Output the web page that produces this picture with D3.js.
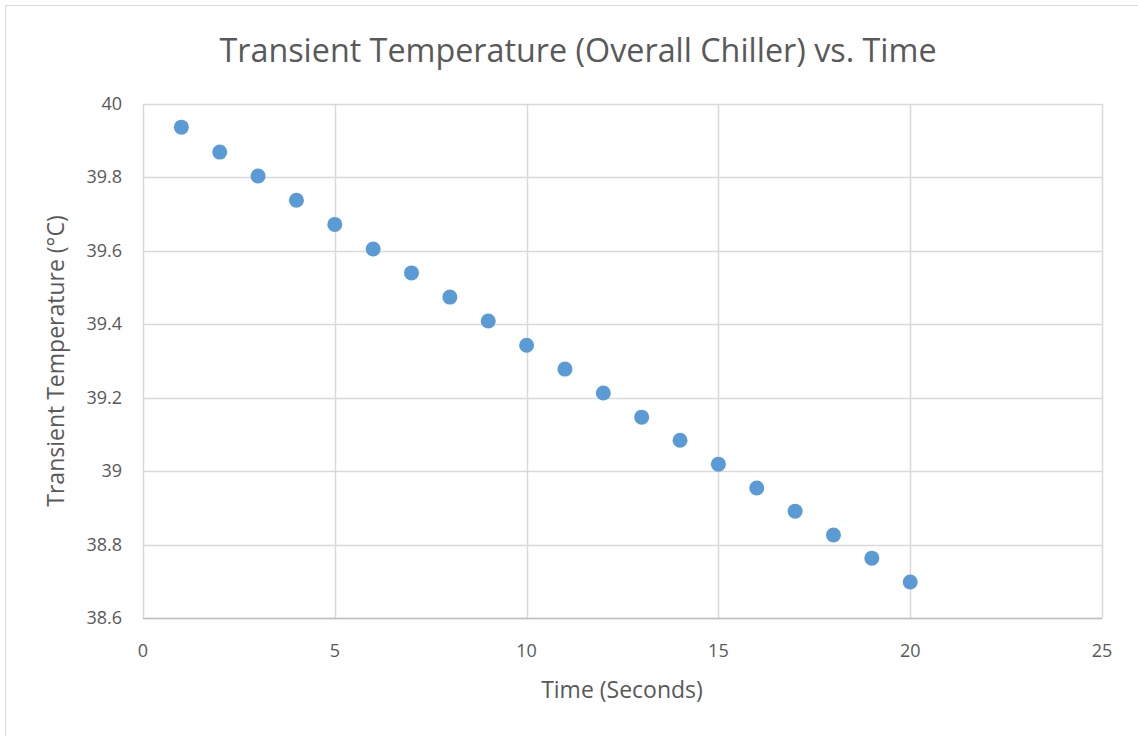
<!DOCTYPE html>
<html><head><meta charset="utf-8">
<script src="https://cdn.jsdelivr.net/npm/d3@7"></script>
<style>body{margin:0;background:#fff}text{font-family:"Open Sans",sans-serif;fill:#595959}</style>
</head><body><svg id="c" width="1138" height="736"></svg>
<script>
const times = [1,2,3,4,5,6,7,8,9,10,11,12,13,14,15,16,17,18,19,20];
const temps = [39.937,39.869,39.804,39.738,39.672,39.605,39.540,39.474,39.409,39.343,39.278,39.213,39.147,39.084,39.019,38.954,38.891,38.826,38.763,38.698];
const xTicks = [0,5,10,15,20,25];
const yTicks = [38.6,38.8,39,39.2,39.4,39.6,39.8,40];
const title = "Transient Temperature (Overall Chiller) vs. Time";
const xTitle = "Time (Seconds)";
const yTitle = "Transient Temperature (°C)";

const svg = d3.select("#c");
svg.append("rect").attr("x",5.5).attr("y",5.5).attr("width",1140).attr("height",740)
  .attr("fill","#fff").attr("stroke","#d9d9d9");
const L=143,R=1102,T=104,B=618;
const x = d3.scaleLinear().domain([0,25]).range([L,R]);
const y = d3.scaleLinear().domain([38.6,40]).range([B,T]);

const g = svg.append("g");
g.selectAll(".vg").data(xTicks).join("line")
  .attr("x1",d=>Math.round(x(d))+0.5).attr("x2",d=>Math.round(x(d))+0.5)
  .attr("y1",T).attr("y2",B).attr("stroke","#d9d9d9").attr("stroke-width",1.5);
g.selectAll(".hg").data(yTicks).join("line")
  .attr("y1",d=>Math.round(y(d))+0.5).attr("y2",d=>Math.round(y(d))+0.5)
  .attr("x1",L).attr("x2",R).attr("stroke","#d9d9d9").attr("stroke-width",1.5);
g.append("line").attr("x1",L).attr("x2",R).attr("y1",B+0.5).attr("y2",B+0.5)
  .attr("stroke","#bfbfbf").attr("stroke-width",1.5);

g.selectAll(".xt").data(xTicks).join("text")
  .attr("x",d=>x(d)).attr("y",B+39).attr("text-anchor","middle")
  .attr("font-size",18).text(d=>d);
g.selectAll(".yt").data(yTicks).join("text")
  .attr("x",L-21).attr("y",d=>y(d)+6).attr("text-anchor","end")
  .attr("font-size",18).text(d=>d3.format("~g")(d));

g.selectAll("circle").data(times).join("circle")
  .attr("cx",(d)=>x(d)).attr("cy",(d,i)=>y(temps[i])).attr("r",7.5)
  .attr("fill","#5b9bd5");

svg.append("text").attr("x",578).attr("y",62).attr("text-anchor","middle")
  .attr("font-size",32.3).text(title);
svg.append("text").attr("x",622).attr("y",698).attr("text-anchor","middle")
  .attr("font-size",23).text(xTitle);
svg.append("text").attr("transform","translate(64,361) rotate(-90)")
  .attr("text-anchor","middle").attr("font-size",23).text(yTitle);
</script></body></html>
